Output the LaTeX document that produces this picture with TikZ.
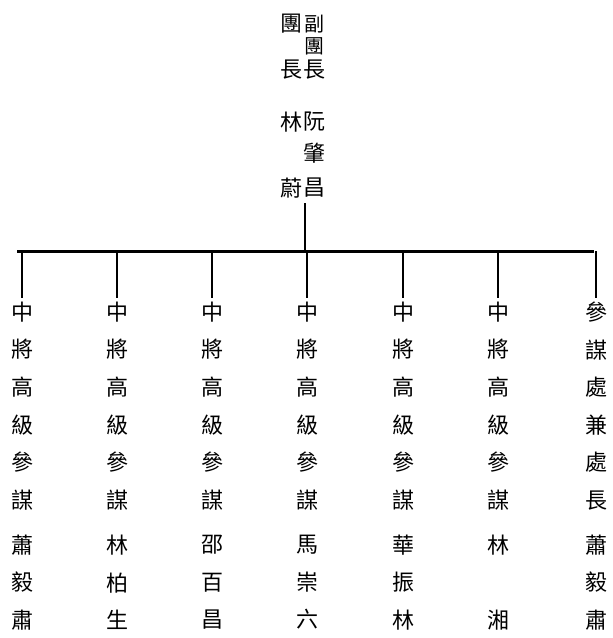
\documentclass[tikz,border=0pt]{standalone}
\usepackage{fontspec}
\newfontfamily\cjk{Noto Sans CJK TC}
\begin{document}
\begin{tikzpicture}[x=1pt,y=1pt,
  col/.style={font=\cjk\fontsize{22}{37.6}\selectfont, align=center, inner sep=0pt},
  lead/.style={font=\cjk\fontsize{22}{22}\selectfont, inner sep=0pt},
  leadsm/.style={font=\cjk\fontsize{20}{20}\selectfont, inner sep=0pt},
  branch/.style={line width=1.2pt, shorten >=4pt},
  barline/.style={line width=3pt}]
\useasboundingbox (0,0) rectangle (613,-638);
% leaders
\node[lead] (l1) at (291,-24) {團};
\node[lead] (l2) at (291,-70) {長};
\node[lead] (l3) at (291,-122) {林};
\node[lead] (l4) at (291,-188) {蔚};
\node[leadsm] (r1) at (314,-24) {副};
\node[leadsm] (r2) at (314,-46) {團};
\node[lead] (r3) at (314,-70) {長};
\node[lead] (r4) at (314,-122) {阮};
\node[lead] (r5) at (314,-153) {肇};
\node[lead] (r6) at (314,-188) {昌};
% titles
\node[col] (t1) at (22,-406) {中\\將\\高\\級\\參\\謀};
\node[col] (t2) at (117,-406) {中\\將\\高\\級\\參\\謀};
\node[col] (t3) at (212,-406) {中\\將\\高\\級\\參\\謀};
\node[col] (t4) at (307,-406) {中\\將\\高\\級\\參\\謀};
\node[col] (t5) at (403,-406) {中\\將\\高\\級\\參\\謀};
\node[col] (t6) at (498,-406) {中\\將\\高\\級\\參\\謀};
\node[col] (t7) at (596,-406) {參\\謀\\處\\兼\\處\\長};
% names
\node[col] (n1) at (22,-582.5) {蕭\\毅\\肅};
\node[col] (n2) at (117,-582.5) {林\\柏\\生};
\node[col] (n3) at (212,-582.5) {邵\\百\\昌};
\node[col] (n4) at (307,-582.5) {馬\\崇\\六};
\node[col] (n5) at (403,-582.5) {華\\振\\林};
\node[col] (n6) at (498,-582.5) {林\\\phantom{林}\\湘};
\node[col] (n7) at (596,-582.5) {蕭\\毅\\肅};
% connectors
\coordinate (topc) at (305,-203);
\coordinate (barc) at (305,-251);
\coordinate (barL) at (17,-251);
\coordinate (barR) at (594,-251);
\draw[line width=1.2pt] (topc) -- (barc);
\draw[barline] (barL) -- (barR);
\foreach \i in {1,...,7}{
  \draw[branch] (t\i.north |- barL) -- (t\i.north);
}
\end{tikzpicture}
\end{document}
